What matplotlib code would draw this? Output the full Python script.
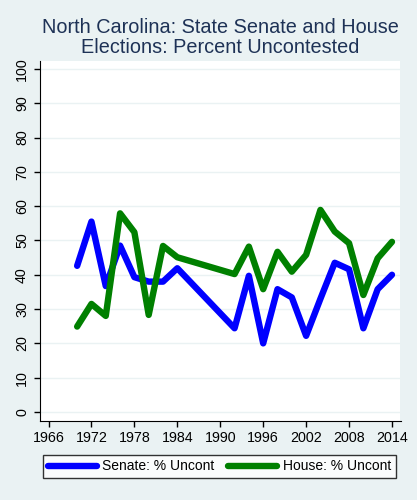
import numpy as np
import matplotlib.pyplot as plt

plt.rcParams['font.family'] = ['Liberation Sans', 'DejaVu Sans']

years = [1970, 1972, 1974, 1976, 1978, 1980, 1982, 1984, 1992, 1994, 1996,
         1998, 2000, 2002, 2004, 2006, 2008, 2010, 2012, 2014]
senate = [42.6, 55.5, 36.7, 48.5, 39.3, 38.0, 38.0, 41.9, 24.4, 39.7, 20.0,
          35.8, 33.4, 22.2, 33.0, 43.5, 41.6, 24.4, 35.8, 40.0]
house = [24.9, 31.5, 28.0, 57.9, 52.4, 28.3, 48.4, 45.1, 40.2, 48.2, 35.8,
         46.7, 40.9, 45.8, 58.9, 52.6, 49.2, 34.1, 44.8, 49.6]
xticks = np.arange(1966, 2015, 6)
yticks = np.arange(0, 101, 10)

bg = '#eaf2f3'
fig = plt.figure(figsize=(4.17, 5.0), dpi=100, facecolor=bg)
ax = fig.add_axes([39.5/417, 79/500, (400.5-39.5)/417, (421-61)/500])
ax.set_facecolor('white')

ax.plot(years, senate, color='#0000ff', lw=4.6, solid_joinstyle='round',
        solid_capstyle='round', label='Senate: % Uncont')
ax.plot(years, house, color='#008000', lw=4.6, solid_joinstyle='round',
        solid_capstyle='round', label='House: % Uncont')

ax.set_xlim(1964.74, 2015.19)
ax.set_ylim(-2.62, 102.3)
ax.set_xticks(xticks)
ax.set_yticks(yticks)
ax.set_yticklabels([str(v) for v in yticks], rotation=90, va='center')
ax.tick_params(labelsize=10.3, colors='black', length=4, width=1)
ax.grid(axis='y', color='#eaf2f3', lw=1)
ax.set_axisbelow(True)
for s in ['top', 'right']:
    ax.spines[s].set_visible(False)
for s in ['left', 'bottom']:
    ax.spines[s].set_color('black')

fig.text(220/417, 1-37.5/500, 'North Carolina: State Senate and House\nElections: Percent Uncontested',
         ha='center', va='center', fontsize=14.3, color='#1e3256', linespacing=1.05)

leg = fig.legend(loc='center', bbox_to_anchor=(219.5/417, 1-466.5/500), ncol=2,
                 fontsize=10, frameon=True, fancybox=False, handlelength=3.5,
                 columnspacing=1.0, handletextpad=0.4, borderpad=0.35)
leg.get_frame().set_edgecolor('black')
leg.get_frame().set_linewidth(1)

fig.savefig('out.png', dpi=100, facecolor=bg)
